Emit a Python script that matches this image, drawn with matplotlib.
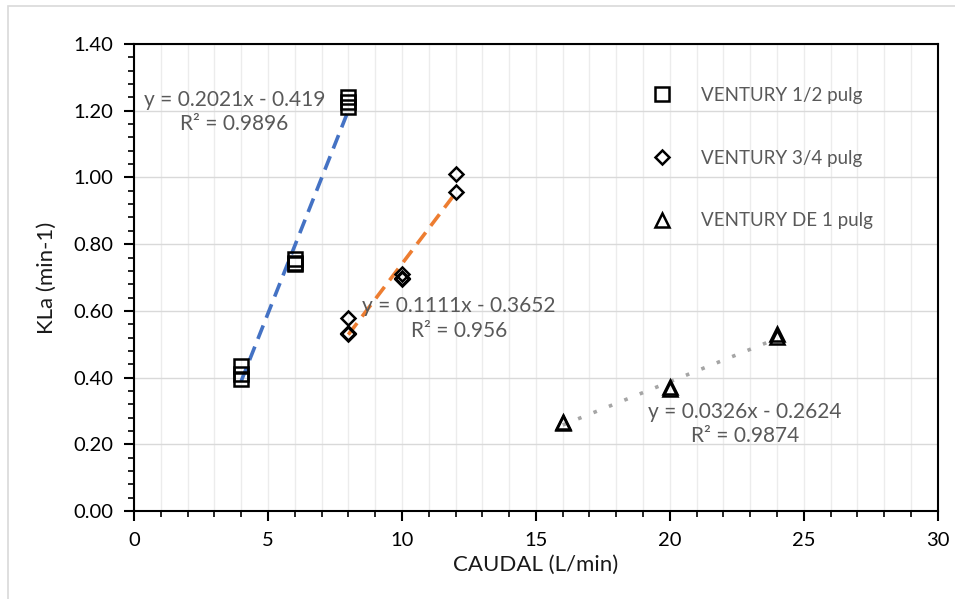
import matplotlib.pyplot as plt
import numpy as np
from matplotlib.patches import Rectangle
from matplotlib.ticker import MultipleLocator

plt.rcParams['font.family'] = ['Lato', 'DejaVu Sans']

# VENTURY 1/2 pulg
x_half = [4, 4, 4, 6, 6, 6, 8, 8, 8]
y_half = [0.435, 0.41, 0.395, 0.755, 0.745, 0.74, 1.24, 1.225, 1.21]
# VENTURY 3/4 pulg
x_3q = [8, 8, 8, 10, 10, 10, 12, 12]
y_3q = [0.58, 0.535, 0.53, 0.71, 0.70, 0.695, 1.01, 0.955]
# VENTURY DE 1 pulg
x_one = [16, 16, 20, 20, 24, 24]
y_one = [0.268, 0.265, 0.373, 0.367, 0.53, 0.522]

labels = ["VENTURY 1/2 pulg", "VENTURY 3/4 pulg", "VENTURY DE 1 pulg"]
eq_texts = ["y = 0.2021x - 0.419\nR² = 0.9896",
            "y = 0.1111x - 0.3652\nR² = 0.956",
            "y = 0.0326x - 0.2624\nR² = 0.9874"]

txt = '#595959'

fig = plt.figure(figsize=(9.55, 5.99), dpi=100)
ax = fig.add_axes([0.1403, 0.1469, 0.8417, 0.7796])
# chart area border (only left and top edges fall inside the image)
fig.patches.append(Rectangle((8 / 955, -0.05), 1.0, 1 - 6 / 599 + 0.05,
                             transform=fig.transFigure, fill=False,
                             edgecolor='#d9d9d9', lw=1.2))

ax.set_xlim(0, 30)
ax.set_ylim(0, 1.4)
ax.xaxis.set_major_locator(MultipleLocator(5))
ax.xaxis.set_minor_locator(MultipleLocator(1))
ax.yaxis.set_major_locator(MultipleLocator(0.2))
ax.yaxis.set_minor_locator(MultipleLocator(0.04))
ax.yaxis.set_major_formatter(plt.FuncFormatter(lambda v, p: f"{v:.2f}"))
ax.grid(True, which='major', axis='y', color='#d9d9d9', lw=1)
ax.grid(True, which='both', axis='x', color='#ececec', lw=1)
ax.set_axisbelow(True)
for s in ax.spines.values():
    s.set_linewidth(1.5)
ax.tick_params(which='major', length=7, width=1.5, labelsize=14.5, pad=8)
ax.tick_params(which='minor', length=4, width=1.2)

series = [(x_half, y_half, 's', 10, '#4472C4', (4, 2.3)),
          (x_3q, y_3q, 'D', 7.5, '#ED7D31', (4, 2.3)),
          (x_one, y_one, '^', 10.5, '#A5A5A5', (1, 3.6))]
for (xs, ys, m, ms, c, d), lab in zip(series, labels):
    ax.plot(xs, ys, ls='none', marker=m, ms=ms, mfc='none', mec='black',
            mew=1.8, label=lab, zorder=3)
    k, b = np.polyfit(xs, ys, 1)
    xx = np.array([min(xs), max(xs)])
    ax.plot(xx, k * xx + b, color=c, lw=2.6, dashes=d,
            dash_capstyle='butt', zorder=2)

pos = [(3.75, 1.196), (12.13, 0.578), (22.8, 0.261)]
for (px, py), t in zip(pos, eq_texts):
    ax.text(px, py, t, ha='center', va='center', fontsize=15, color=txt,
            linespacing=1.3, zorder=4)

leg = ax.legend(loc='upper left', bbox_to_anchor=(0.622, 0.945), frameon=False,
                fontsize=13.5, handlelength=1.2, handletextpad=1.5,
                labelspacing=2.45)
for t in leg.get_texts():
    t.set_color(txt)

ax.set_xlabel("CAUDAL (L/min)", fontsize=16, color='#1a1a1a', labelpad=4)
ax.set_ylabel("KLa (min-1)", fontsize=16, color='#1a1a1a', labelpad=12)

fig.savefig("out.png", dpi=100)
